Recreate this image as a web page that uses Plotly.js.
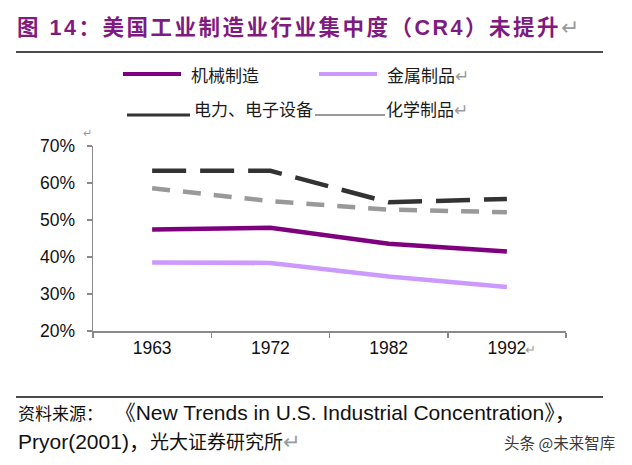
<!DOCTYPE html>
<html>
<head>
<meta charset="utf-8">
<script src="https://cdn.plot.ly/plotly-3.0.1.min.js"></script>
<style>
  html, body { margin: 0; padding: 0; background: #fff; }
  #chart { width: 632px; height: 465px; }
  .gtitle { letter-spacing: 2.5px; }
</style>
</head>
<body>
<div id="chart"></div>
<script>
// CR4 concentration of US manufacturing industries, census years
const years = ['1963', '1972', '1982', '1992'];
const machinery = [47.4, 47.9, 43.6, 41.5];      // 机械制造
const metals = [38.5, 38.4, 34.7, 31.9];         // 金属制品
const electrical = [63.3, 63.3, 54.8, 55.7];     // 电力、电子设备
const chemicals = [58.6, 55.1, 52.8, 52.1];      // 化学制品
const yTicks = [20, 30, 40, 50, 60, 70];
const yTickText = ['20%', '30%', '40%', '50%', '60%', '70%'];

const W = 632, H = 465;
const M = { l: 93, r: 66, t: 146, b: 134 };
const PW = W - M.l - M.r, PH = H - M.t - M.b;
// page pixel -> paper coordinate helpers for the decorations around the plot
const px = x => (x - M.l) / PW;
const py = y => (H - M.b - y) / PH;

const CJK = '"Noto Sans CJK SC", sans-serif';
const LAT = '"Liberation Sans", Arial, "Noto Sans CJK SC", sans-serif';
const RET = '<span style="color:#9a9a9a;font-weight:normal">↵</span>';

const series = [
  { name: '机械制造', y: machinery, color: '#7f007f', dash: 'solid' },
  { name: '金属制品', y: metals, color: '#cc99ff', dash: 'solid' },
  { name: '电力、电子设备', y: electrical, color: '#333333', dash: '34px,14px' },
  { name: '化学制品', y: chemicals, color: '#999999', dash: '18px,13px' }
];

const traces = series.map(s => ({
  type: 'scatter', mode: 'lines', x: years, y: s.y, name: s.name,
  line: { color: s.color, width: 4.5, dash: s.dash },
  hoverinfo: 'skip', showlegend: false
}));

// hand-laid legend: two rows, line sample followed by label
const legendItems = [
  { i: 0, x0: 123, x1: 181, ly: 74, w: 4, tx: 189, ty: 74, ret: false },
  { i: 1, x0: 319, x1: 377, ly: 74, w: 4, tx: 385, ty: 74, ret: true },
  { i: 2, x0: 127, x1: 190, ly: 115, w: 2.8, tx: 192, ty: 108, ret: false },
  { i: 3, x0: 315, x1: 385, ly: 115, w: 2.2, tx: 384, ty: 108, ret: true }
];

const shapes = [
  { type: 'line', xref: 'paper', yref: 'paper', x0: px(16), x1: px(603), y0: py(52), y1: py(52),
    line: { color: '#111', width: 1.3 } },
  { type: 'line', xref: 'paper', yref: 'paper', x0: px(16), x1: px(603), y0: py(397), y1: py(397),
    line: { color: '#111', width: 1.3 } }
];
const annotations = [];
legendItems.forEach(it => {
  const s = series[it.i];
  shapes.push({ type: 'line', xref: 'paper', yref: 'paper',
    x0: px(it.x0), x1: px(it.x1), y0: py(it.ly), y1: py(it.ly),
    line: { color: s.color, width: it.w, dash: 'solid' } });
  annotations.push({ xref: 'paper', yref: 'paper', x: px(it.tx), y: py(it.ty),
    xanchor: 'left', yanchor: 'middle', showarrow: false,
    text: s.name + (it.ret ? RET : ''),
    font: { family: CJK, size: 17, color: '#1a1a1a' } });
});

// source note, paragraph marks and watermark
annotations.push(
  { xref: 'paper', yref: 'paper', x: px(16), y: py(412), xanchor: 'left', yanchor: 'middle',
    showarrow: false, font: { family: LAT, size: 21, color: '#111' },
    text: '<span style="font-family:\'Noto Sans CJK SC\';font-size:17px">资料来源：</span>  《New Trends in U.S. Industrial Concentration》，' },
  { xref: 'paper', yref: 'paper', x: px(16), y: py(440), xanchor: 'left', yanchor: 'middle',
    showarrow: false, font: { family: LAT, size: 21, color: '#111' },
    text: 'Pryor(2001)，<span style="font-family:\'Noto Sans CJK SC\';font-size:19px">光大证券研究所</span>' + RET },
  { xref: 'paper', yref: 'paper', x: px(617), y: py(442), xanchor: 'right', yanchor: 'middle',
    showarrow: false, font: { family: CJK, size: 15.5, color: '#3a3a3a' }, text: '头条 @未来智库' },
  { xref: 'paper', yref: 'paper', x: px(87), y: py(132), xanchor: 'center', yanchor: 'middle',
    showarrow: false, font: { family: CJK, size: 11, color: '#9a9a9a' }, text: '↵' },
  { xref: 'paper', yref: 'paper', x: px(530), y: py(348), xanchor: 'center', yanchor: 'middle',
    showarrow: false, font: { family: CJK, size: 13, color: '#9a9a9a' }, text: '↵' }
);

const layout = {
  width: W, height: H,
  margin: M,
  paper_bgcolor: '#fff', plot_bgcolor: '#fff',
  showlegend: false,
  title: {
    text: '<b>图 14：美国工业制造业行业集中度（CR4）未提升</b>' + RET,
    xref: 'container', yref: 'container', x: 17 / W, xanchor: 'left',
    y: 1 - 27 / H, yanchor: 'middle',
    font: { family: LAT, size: 21.5, color: '#7e1a80' }
  },
  xaxis: {
    type: 'category', range: [-0.5, 3.5], fixedrange: true,
    showline: true, linecolor: '#8a8a8a', linewidth: 1.5,
    showgrid: false, zeroline: false,
    ticks: 'outside', tickson: 'boundaries', ticklen: 5, tickcolor: '#8a8a8a', tickwidth: 1.5,
    tickfont: { family: LAT, size: 17.5, color: '#111' }
  },
  yaxis: {
    range: [20, 70], fixedrange: true,
    tickvals: yTicks, ticktext: yTickText,
    showline: true, linecolor: '#8a8a8a', linewidth: 1.5,
    showgrid: false, zeroline: false,
    ticks: 'outside', ticklen: 5, tickcolor: '#8a8a8a', tickwidth: 1.5,
    ticklabelstandoff: 8,
    tickfont: { family: LAT, size: 17.5, color: '#111' }
  },
  shapes: shapes,
  annotations: annotations
};

Plotly.newPlot('chart', traces, layout, { staticPlot: true, displayModeBar: false });
</script>
</body>
</html>
